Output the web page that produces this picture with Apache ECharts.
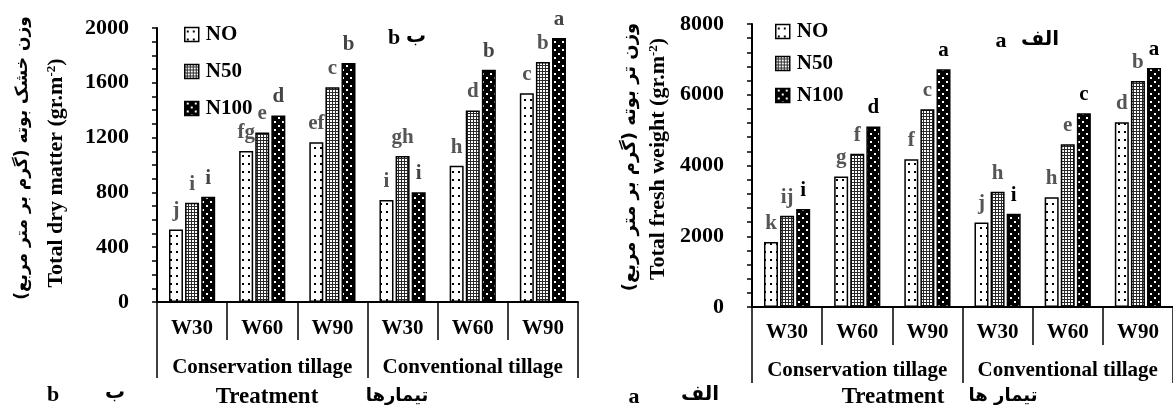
<!DOCTYPE html>
<html><head><meta charset="utf-8">
<script src="https://cdn.jsdelivr.net/npm/echarts@6/dist/echarts.min.js"></script>
<style>html,body{margin:0;padding:0;background:#fff}#c{width:1173px;height:412px}</style>
</head><body><div id="c"></div>
<script>
// ---- data ----
const treatments = ['W30','W60','W90','W30','W60','W90'];
const tillage = ['Conservation tillage','Conventional tillage'];
const seriesNames = ['NO','N50','N100'];
// dry matter (b)
const dryNO   = [529, 1102, 1166, 744, 995, 1524];
const dryN50  = [724, 1237, 1568, 1066, 1398, 1751];
const dryN100 = [768, 1361, 1744, 802, 1695, 1927];
const dryLetNO   = ['j','fg','ef','i','h','c'];
const dryLetN50  = ['i','e','c','gh','d','b'];
const dryLetN100 = ['i','d','b','i','b','a'];
// fresh weight (a)
const freshNO   = [1835, 3689, 4179, 2391, 3106, 5224];
const freshN50  = [2579, 4329, 5591, 3256, 4602, 6391];
const freshN100 = [2767, 5101, 6720, 2635, 5478, 6758];
const freshLetNO   = ['k','g','f','j','h','d'];
const freshLetN50  = ['ij','f','c','h','e','b'];
const freshLetN100 = ['i','d','a','i','c','a'];
const dryTicks = [0, 400, 800, 1200, 1600, 2000];
const freshTicks = [0, 2000, 4000, 6000, 8000];

// ---- patterns ----
function pat(bg, fg, w, h, dots, s) {
  const c = document.createElement('canvas');
  c.width = w; c.height = h;
  const g = c.getContext('2d');
  g.fillStyle = bg; g.fillRect(0, 0, w, h);
  g.fillStyle = fg;
  dots.forEach(d => g.fillRect(d[0], d[1], s, s));
  return { image: c, repeat: 'repeat' };
}
const fills = [
  pat('#ffffff', '#000000', 6, 8, [[2, 3]], 2),
  pat('#2a2a2a', '#ffffff', 3, 3, [[0, 0]], 2),
  pat('#000000', '#ffffff', 8, 8, [[2, 1], [6, 5]], 2)
];

const SERIF = '"Liberation Serif", "Times New Roman", serif';
const FA = '"DejaVu Sans", sans-serif';

function mkSeries(name, idx, data, letters, axisIdx, labelColor) {
  return {
    name: name, type: 'bar', xAxisIndex: axisIdx * 2, yAxisIndex: axisIdx,
    data: data, barWidth: 14, barGap: '15%',
    itemStyle: { color: fills[idx], borderColor: '#000', borderWidth: 1.5 },
    label: {
      show: true, position: 'top', distance: 8,
      formatter: p => letters[p.dataIndex],
      fontFamily: SERIF, fontWeight: 'bold', fontSize: 21, color: labelColor
    },
    emphasis: { disabled: true }, animation: false
  };
}

function xAxes(gridIndex, m1, m2) {
  return [{
    type: 'category', gridIndex: gridIndex, data: treatments, position: 'bottom',
    axisLine: { lineStyle: { color: '#000', width: 2 } },
    axisTick: { show: true, interval: 0, length: 38, lineStyle: { color: '#000', width: 1.5 } },
    axisLabel: { interval: 0, margin: m1, fontFamily: SERIF, fontWeight: 'bold', fontSize: 21, color: '#000' }
  }, {
    type: 'category', gridIndex: gridIndex, data: tillage, position: 'bottom',
    axisLine: { show: false },
    axisTick: { show: true, interval: 0, length: 76, lineStyle: { color: '#000', width: 1.5 } },
    axisLabel: { interval: 0, margin: m2, fontFamily: SERIF, fontWeight: 'bold', fontSize: 21, color: '#000' }
  }];
}

function yAxis(gridIndex, ticks, minorSplit) {
  return {
    type: 'value', gridIndex: gridIndex, min: ticks[0], max: ticks[ticks.length - 1],
    interval: ticks[1] - ticks[0],
    axisLine: { show: true, lineStyle: { color: '#000', width: 2 } },
    axisTick: { show: true, length: 5, lineStyle: { color: '#000', width: 1.5 } },
    minorTick: { show: true, splitNumber: minorSplit, length: 5, lineStyle: { color: '#000', width: 1.5 } },
    splitLine: { show: false },
    axisLabel: { margin: 28, formatter: v => String(v), fontFamily: SERIF, fontWeight: 'bold', fontSize: 22, color: '#000' }
  };
}

function txt(x, y, text, font, rot) {
  return {
    type: 'text', x: x, y: y, rotation: rot || 0, silent: true,
    style: { text: text, font: font, fill: '#000', align: 'center', verticalAlign: 'middle' }
  };
}
function richTitle(x, y, main) {
  return {
    type: 'text', x: x, y: y, rotation: Math.PI / 2, silent: true,
    style: {
      text: '{a|' + main + ' (gr.m}{s|-2}{a|)}', align: 'center', verticalAlign: 'middle',
      rich: {
        a: { fontFamily: SERIF, fontWeight: 'bold', fontSize: 22, fill: '#000', color: '#000' },
        s: { fontFamily: SERIF, fontWeight: 'bold', fontSize: 13, fill: '#000', color: '#000', verticalAlign: 'top', padding: [0, 0, 9, 0] }
      }
    }
  };
}
const RLM = '\u200F';

const legendCommon = {
  orient: 'vertical', icon: 'rect', itemWidth: 14, itemHeight: 14,
  itemStyle: { borderColor: '#000', borderWidth: 1.5 },
  textStyle: { fontFamily: SERIF, fontWeight: 'bold', fontSize: 21, color: '#000', padding: [0, 0, 0, 2] },
  selectedMode: false, data: seriesNames
};

const option = {
  animation: false,
  backgroundColor: '#fff',
  grid: [
    { left: 157, top: 28, width: 421, height: 274 },
    { left: 752, top: 24, width: 426, height: 283 }
  ],
  legend: [
    Object.assign({ left: 179, top: 19, itemGap: 16 }, legendCommon),
    Object.assign({ left: 770, top: 16, itemGap: 11 }, legendCommon)
  ],
  xAxis: [].concat(xAxes(0, 16, 55), xAxes(1, 15, 53)),
  yAxis: [yAxis(0, dryTicks, 4), yAxis(1, freshTicks, 5)],
  series: [
    mkSeries('NO', 0, dryNO, dryLetNO, 0, '#555'),
    mkSeries('N50', 1, dryN50, dryLetN50, 0, '#555'),
    mkSeries('N100', 2, dryN100, dryLetN100, 0, '#444'),
    mkSeries('NO', 0, freshNO, freshLetNO, 1, '#555'),
    mkSeries('N50', 1, freshN50, freshLetN50, 1, '#555'),
    mkSeries('N100', 2, freshN100, freshLetN100, 1, '#000')
  ],
  graphic: [
    // left chart axis titles
    txt(23, 158, RLM + 'وزن خشک بوته (گرم بر متر مربع)' + RLM, 'bold 17px ' + FA, Math.PI / 2),
    richTitle(56, 173, 'Total dry matter'),
    // right chart axis titles
    txt(630, 157, RLM + 'وزن تر بوته (گرم بر متر مربع)' + RLM, 'bold 18px ' + FA, Math.PI / 2),
    richTitle(658, 159, 'Total fresh weight'),
    // panel marks
    txt(394, 38, 'b', 'bold 22px ' + SERIF),
    txt(416, 37, 'ب', 'bold 20px ' + FA),
    txt(1001, 41, 'a', 'bold 22px ' + SERIF),
    txt(1040, 40, 'الف', 'bold 20px ' + FA),
    // bottom texts
    txt(53, 395, 'b', 'bold 22px ' + SERIF),
    txt(115, 393, 'ب', 'bold 20px ' + FA),
    txt(267, 397, 'Treatment', 'bold 23px ' + SERIF),
    txt(397, 396, 'تیمارها', 'bold 18px ' + FA),
    txt(634, 397, 'a', 'bold 22px ' + SERIF),
    txt(700, 395, 'الف', 'bold 20px ' + FA),
    txt(893, 397, 'Treatment', 'bold 23px ' + SERIF),
    txt(1003, 396, 'تیمار ها', 'bold 18px ' + FA)
  ]
};
const chart = echarts.init(document.getElementById('c'), null, { renderer: 'canvas' });
chart.setOption(option);
</script></body></html>
